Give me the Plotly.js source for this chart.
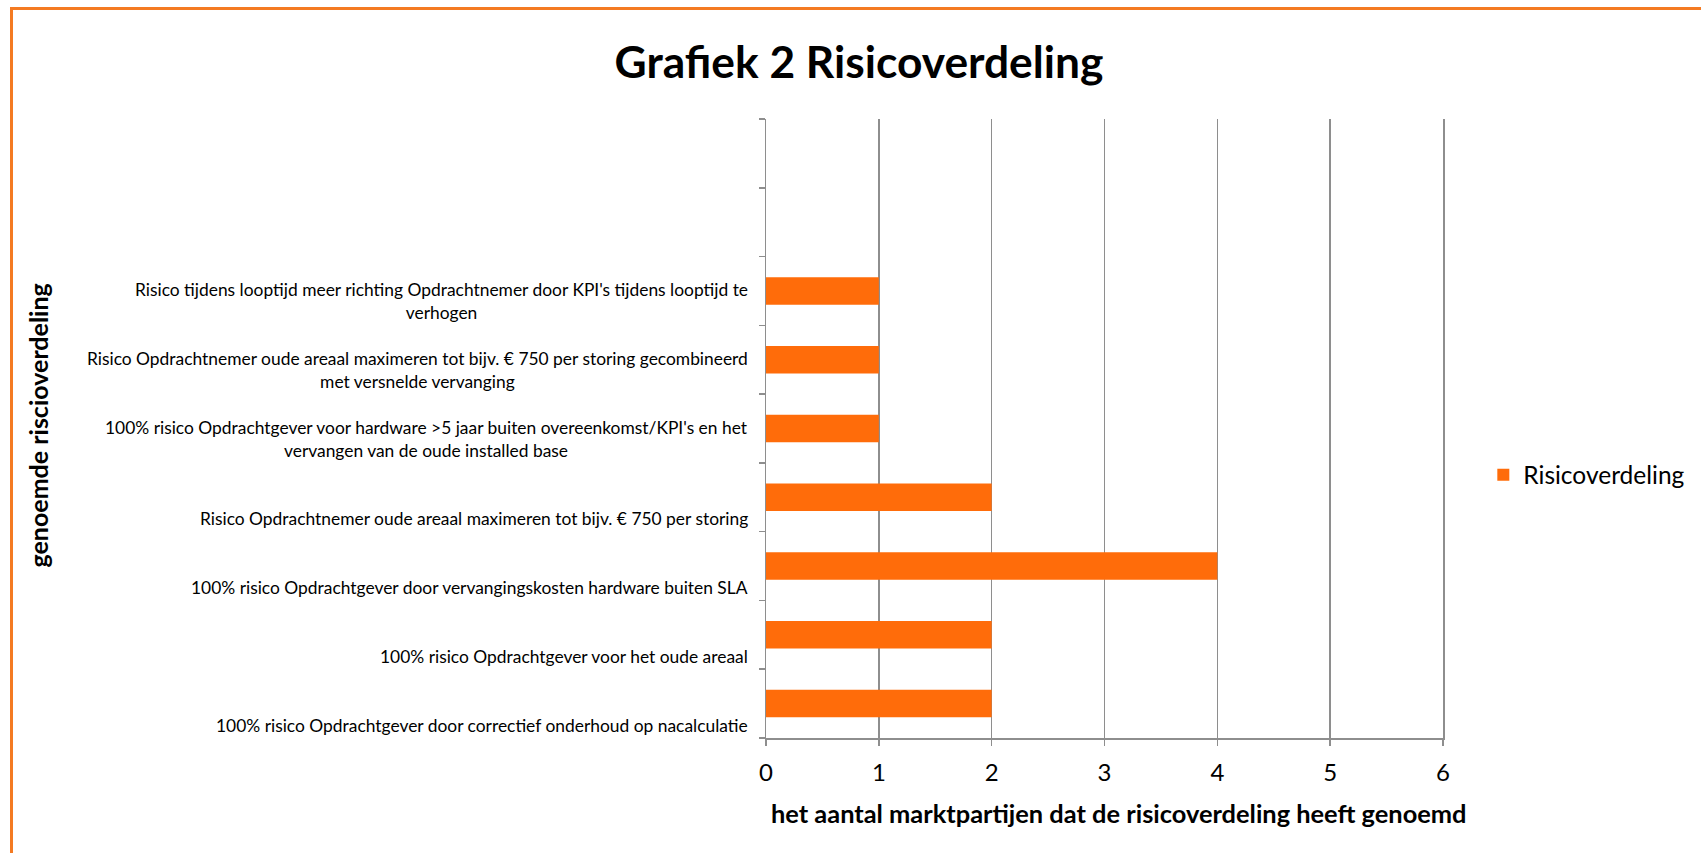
<!DOCTYPE html>
<html>
<head>
<meta charset="utf-8">
<script src="https://cdn.plot.ly/plotly-3.0.1.min.js"></script>
<style>
  html, body { margin: 0; padding: 0; background: #fff; overflow: hidden; }
  #chart { width: 1701px; height: 853px; }
  #frame { position: absolute; left: 10px; top: 7px; width: 1760px; height: 900px;
           border-left: 3px solid #F47A22; border-top: 3px solid #F47A22; pointer-events: none; }
</style>
</head>
<body>
<div id="chart"></div>
<div id="frame"></div>
<script>
// Categories from bottom to top
const categories = [
  "100% risico Opdrachtgever door correctief onderhoud op nacalculatie",
  "100% risico Opdrachtgever voor het oude areaal",
  "100% risico Opdrachtgever door vervangingskosten hardware buiten SLA",
  "Risico Opdrachtnemer oude areaal maximeren tot bijv. € 750 per storing",
  "100% risico Opdrachtgever voor hardware >5 jaar buiten overeenkomst/KPI's en het<br>vervangen van de oude installed base",
  "Risico Opdrachtnemer oude areaal maximeren tot bijv. € 750 per storing gecombineerd<br>met versnelde vervanging",
  "Risico tijdens looptijd meer richting Opdrachtnemer door KPI's tijdens looptijd te<br>verhogen"
];
const values = [2, 2, 4, 2, 1, 1, 1];
const seriesName = "Risicoverdeling";
const xTicks = [0, 1, 2, 3, 4, 5, 6];
const emptySlots = 2;
const chartTitle = "Grafiek 2 Risicoverdeling";
const xTitle = "het aantal marktpartijen dat de risicoverdeling heeft genoemd";
const yTitle = "genoemde riscioverdeling";

const FONT = "Lato, 'Open Sans', sans-serif";
const ORANGE = "#FF6C0A";
const GRAY = "#8E8E8E";

const nSlots = categories.length + emptySlots;
const boundaries = [];
for (let i = 0; i <= nSlots; i++) boundaries.push(i - 0.5);

const trace = {
  type: "bar",
  orientation: "h",
  name: seriesName,
  y: categories,
  x: values,
  marker: { color: ORANGE },
  showlegend: true,
  hoverinfo: "x+y"
};
// invisible helper trace on the boundary axis
const helper = {
  type: "scatter", mode: "markers", x: [null], y: [null],
  yaxis: "y2", showlegend: false, hoverinfo: "skip"
};

const annotations = categories.map(c => ({
  xref: "paper", yref: "y", x: 0, y: c,
  xanchor: "right", yanchor: "bottom", xshift: -16, yshift: -34,
  align: "center", showarrow: false, text: c,
  font: { family: FONT, size: 17.4, color: "#000" }
}));
annotations.push({
  xref: "paper", yref: "paper", x: (37 - 766) / 678, y: 0.505,
  xanchor: "center", yanchor: "middle", textangle: -90, showarrow: false,
  text: "<b>" + yTitle + "</b>",
  font: { family: FONT, size: 25, color: "#000" }
});
annotations.push({
  xref: "paper", yref: "paper", x: (1120 - 766) / 678, y: (738 - 813) / 619,
  xanchor: "center", yanchor: "middle", showarrow: false,
  text: "<b>" + xTitle + "</b>",
  font: { family: FONT, size: 25.4, color: "#000" }
});

const layout = {
  width: 1701, height: 853,
  paper_bgcolor: "#fff", plot_bgcolor: "#fff",
  margin: { l: 766, r: 257, t: 119, b: 115, pad: 0 },
  bargap: 0.6,
  title: {
    text: "<b>" + chartTitle + "</b>",
    font: { family: FONT, size: 44.3, color: "#000" },
    xref: "container", x: 0.505, xanchor: "center",
    yref: "container", y: 1 - 62 / 853, yanchor: "middle"
  },
  xaxis: {
    range: [0, 6], tickvals: xTicks, ticktext: xTicks.map(String),
    showgrid: true, gridcolor: GRAY, gridwidth: 1.5,
    zeroline: false, showline: true, linecolor: GRAY, linewidth: 1.5,
    ticks: "outside", ticklen: 6, tickcolor: GRAY, tickwidth: 1.5,
    ticklabelstandoff: 7,
    tickfont: { family: FONT, size: 24, color: "#000" },
    title: { text: "" },
    fixedrange: true
  },
  yaxis: {
    type: "category", categoryorder: "array", categoryarray: categories,
    range: [-0.5, nSlots - 0.5],
    showticklabels: false, ticks: "", showgrid: false, zeroline: false, showline: false,
    title: { text: "" }, fixedrange: true
  },
  yaxis2: {
    overlaying: "y", side: "left", range: [-0.5, nSlots - 0.5],
    tickvals: boundaries, ticktext: boundaries.map(() => ""),
    showgrid: false, zeroline: false,
    showline: true, mirror: true, linecolor: GRAY, linewidth: 1.5,
    ticks: "outside", ticklen: 6, tickcolor: GRAY, tickwidth: 1.5,
    title: { text: "" },
    fixedrange: true
  },
  legend: {
    x: 1.058, xanchor: "left", y: 0.425, yanchor: "middle",
    font: { family: FONT, size: 24.5, color: "#000" },
    bgcolor: "rgba(0,0,0,0)", itemclick: false, itemdoubleclick: false
  },
  annotations: annotations
};

Plotly.newPlot("chart", [trace, helper], layout, { displayModeBar: false, staticPlot: true });
</script>
</body>
</html>
